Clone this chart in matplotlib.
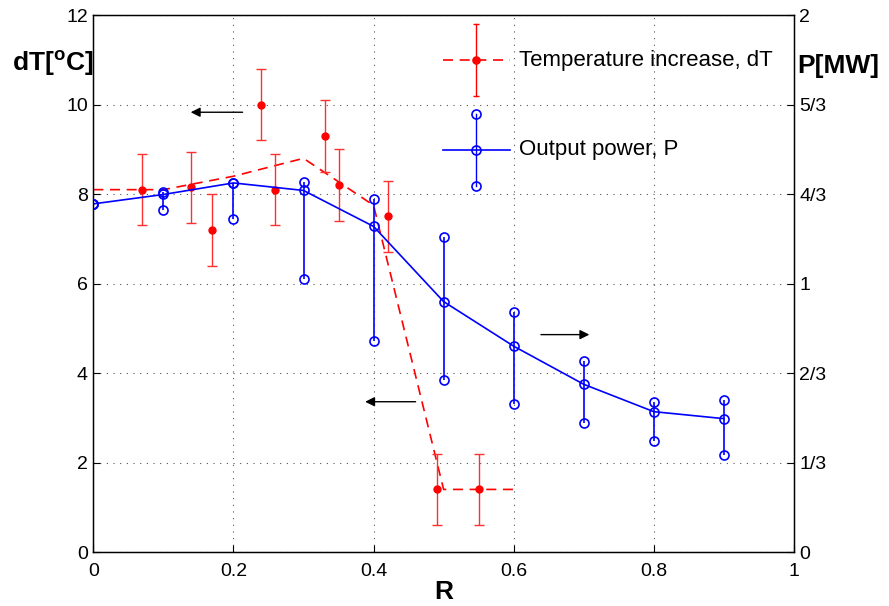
import numpy as np
import matplotlib
matplotlib.use("Agg")
import matplotlib.pyplot as plt
from matplotlib.lines import Line2D
from matplotlib.legend_handler import HandlerBase

plt.rcParams['font.family'] = ['Liberation Sans', 'DejaVu Sans']
plt.rcParams['mathtext.fontset'] = 'custom'
plt.rcParams['mathtext.rm'] = 'Liberation Sans'
plt.rcParams['mathtext.bf'] = 'Liberation Sans:bold'

# temperature increase dT [C]: trend line + measured points (+/- error)
r_line = [0.0, 0.1, 0.2, 0.3, 0.4, 0.5, 0.6]
dT_line = [8.1, 8.1, 8.4, 8.8, 7.75, 1.4, 1.4]
r_dT = [0.07, 0.14, 0.17, 0.24, 0.26, 0.33, 0.35, 0.42, 0.49, 0.55]
dT = [8.1, 8.15, 7.2, 10.0, 8.1, 9.3, 8.2, 7.5, 1.4, 1.4]
dT_err = [0.8] * 10

# output power P [MW] with upper / lower bounds
r_P = [0.0, 0.1, 0.2, 0.3, 0.4, 0.5, 0.6, 0.7, 0.8, 0.9]
P = [1.297, 1.332, 1.375, 1.347, 1.213, 0.933, 0.767, 0.625, 0.523, 0.497]
P_hi = [1.297, 1.342, 1.375, 1.378, 1.315, 1.173, 0.895, 0.710, 0.560, 0.567]
P_lo = [1.297, 1.275, 1.240, 1.017, 0.787, 0.642, 0.550, 0.480, 0.413, 0.362]

P_ticks = [0, 1/3, 2/3, 1, 4/3, 5/3, 2]
P_ticklabels = ['0', '1/3', '2/3', '1', '4/3', '5/3', '2']


class ErrHandler(HandlerBase):
    # legend sample: line + vertical error bar with caps
    def __init__(self, cap):
        super().__init__()
        self.cap = cap

    def create_artists(self, legend, orig, xd, yd, width, height, fontsize, trans):
        c = orig.get_color()
        xm = width / 2 - xd
        ym = height / 2 - yd
        h = Line2D([-xd, width - xd], [ym, ym], color=c, ls=orig.get_linestyle(),
                   lw=orig.get_linewidth(), dashes=(6, 4) if orig.get_linestyle() == '--' else (None, None))
        v = Line2D([xm, xm], [ym - height / 2, ym + height / 2], color=c, lw=1.0)
        mid = Line2D([xm], [ym], marker=orig.get_marker(), ms=orig.get_markersize(),
                     mfc=orig.get_markerfacecolor(), mec=c, mew=1.2, ls='none')
        if self.cap == 'o':
            caps = Line2D([xm, xm], [ym - height / 2, ym + height / 2], marker='o', ms=6.5,
                          mfc='none', mec=c, mew=1.2, ls='none')
        else:
            caps = Line2D([xm, xm], [ym - height / 2, ym + height / 2], marker='_', ms=5,
                          mec=c, mew=1.0, ls='none')
        arts = [h, v, mid, caps]
        for a in arts:
            a.set_transform(trans)
        return arts


fig = plt.figure(figsize=(8.89, 6.06), dpi=100)
ax = fig.add_axes([0.105, 0.089, 0.788, 0.886])
ax2 = ax.twinx()

# temperature
ax.plot(r_line, dT_line, color='red', ls='--', lw=1.2, dashes=(6, 4))
ax.errorbar(r_dT, dT, yerr=dT_err, fmt='o', color='red', ms=5, elinewidth=1.0,
            ecolor='#ff3030', capsize=3.5, capthick=1.0)

# power
ax2.vlines(r_P, P_lo, P_hi, color='blue', lw=1.2)
ax2.plot(r_P, P_hi, 'o', mfc='none', mec='blue', ms=6.5, mew=1.2)
ax2.plot(r_P, P_lo, 'o', mfc='none', mec='blue', ms=6.5, mew=1.2)
ax2.plot(r_P, P, '-o', color='blue', lw=1.2, mfc='none', ms=6.5, mew=1.2)

ax.set_xlim(0, 1)
ax.set_ylim(0, 12)
ax2.set_ylim(0, 2)
ax.set_xticks(np.arange(0, 1.01, 0.2))
ax.set_xticklabels(['0', '0.2', '0.4', '0.6', '0.8', '1'])
ax.set_yticks(range(0, 13, 2))
ax2.set_yticks(P_ticks)
ax2.set_yticklabels(P_ticklabels)

ax.grid(True, ls=(0, (1, 5)), color='#555555', lw=0.8)
ax.tick_params(direction='in', length=5, labelsize=14, pad=4)
ax.tick_params(axis='x', pad=8)
ax2.tick_params(direction='in', length=5, labelsize=14, pad=4)
for s in ax.spines.values():
    s.set_linewidth(1.0)

# arrows pointing to the matching axis
arrow = dict(arrowstyle='-|>', color='black', lw=1.0, mutation_scale=14)
ax.annotate('', xy=(0.135, 9.83), xytext=(0.217, 9.83), arrowprops=arrow)
ax.annotate('', xy=(0.384, 3.36), xytext=(0.464, 3.36), arrowprops=arrow)
ax.annotate('', xy=(0.712, 4.86), xytext=(0.635, 4.86), arrowprops=arrow)

fig.text(0.013, 0.895, r'dT[$^{\mathbf{o}}$C]', fontsize=19, fontweight='bold', va='center', ha='left')
fig.text(0.897, 0.891, 'P[MW]', fontsize=19, fontweight='bold', va='center', ha='left')
ax.set_xlabel('R', fontsize=19, fontweight='bold', labelpad=0)

h_dT = Line2D([], [], color='red', ls='--', lw=1.2, marker='o', ms=5, mfc='red')
h_P = Line2D([], [], color='blue', ls='-', lw=1.2, marker='o', ms=6.5, mfc='none')
ax.legend([h_dT, h_P], ['Temperature increase, dT', 'Output power, P'],
          handler_map={h_dT: ErrHandler('_'), h_P: ErrHandler('o')},
          loc='upper left', bbox_to_anchor=(0.499, 0.983), frameon=False, fontsize=16,
          handlelength=3.0, handleheight=4.6, handletextpad=0.42, labelspacing=0.8,
          borderpad=0, borderaxespad=0)

fig.savefig('out.png', dpi=100)
